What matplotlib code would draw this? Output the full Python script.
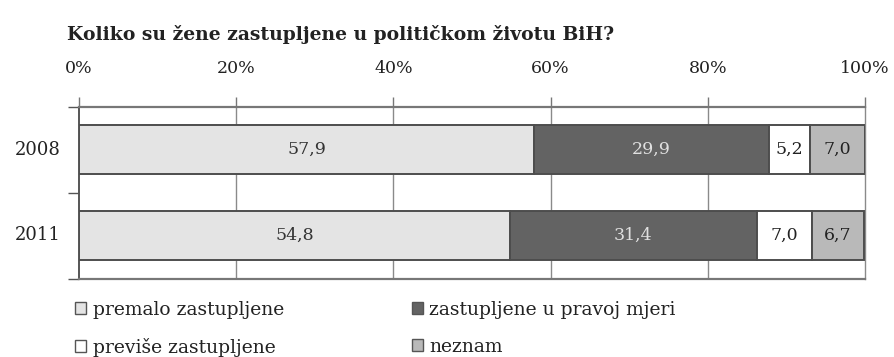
import matplotlib
matplotlib.use("Agg")
import matplotlib.pyplot as plt
from matplotlib.ticker import FixedLocator
import numpy as np

plt.rcParams['font.family'] = ['DejaVu Serif']

title = "Koliko su žene zastupljene u političkom životu BiH?"
years = ["2008", "2011"]
categories = ["premalo zastupljene", "zastupljene u pravoj mjeri",
              "previše zastupljene", "neznam"]
values = {
    "premalo zastupljene": [57.9, 54.8],
    "zastupljene u pravoj mjeri": [29.9, 31.4],
    "previše zastupljene": [5.2, 7.0],
    "neznam": [7.0, 6.7],
}
value_labels = {
    "premalo zastupljene": ["57,9", "54,8"],
    "zastupljene u pravoj mjeri": ["29,9", "31,4"],
    "previše zastupljene": ["5,2", "7,0"],
    "neznam": ["7,0", "6,7"],
}
x_ticks = [0, 20, 40, 60, 80, 100]
x_tick_labels = ["0%", "20%", "40%", "60%", "80%", "100%"]

fills = ["#e4e4e4", "#636363", "#ffffff", "#b9b9b9"]
label_colors = ["#333333", "#e0e0e0", "#222222", "#222222"]
edge = "#4d4d4d"
text_color = "#222222"
fs = 12.5

fig = plt.figure(figsize=(8.95, 3.57), dpi=100)
ax = fig.add_axes([79 / 895, 78.5 / 357, 786 / 895, 172 / 357])

y = np.arange(len(years))
left = np.zeros(len(years))
handles = {}
for cat, fc, lc in zip(categories, fills, label_colors):
    vals = np.array(values[cat])
    bars = ax.barh(y, vals, left=left, height=0.58, color=fc,
                   edgecolor=edge, linewidth=1.4, zorder=3, label=cat)
    handles[cat] = bars
    for yi, v, l, txt in zip(y, vals, left, value_labels[cat]):
        ax.text(l + v / 2, yi, txt, ha="center", va="center",
                fontsize=fs, color=lc, zorder=4)
    left += vals

ax.set_xlim(0, 100)
ax.set_ylim(1.5, -0.5)

# vertical grid lines at the percentage ticks
for xv in x_ticks[1:-1]:
    ax.axvline(xv, color="#8a8a8a", linewidth=1.0, zorder=1)

ax.xaxis.set_ticks_position("top")
ax.set_xticks(x_ticks)
ax.set_xticklabels(x_tick_labels, fontsize=fs, color=text_color)
ax.tick_params(axis="x", direction="out", length=7, width=1.0,
               color="#777777", pad=14)

ax.yaxis.set_major_locator(FixedLocator([-0.5, 0.5, 1.5]))
ax.yaxis.set_major_formatter(plt.NullFormatter())
ax.tick_params(axis="y", direction="out", length=8, width=1.0,
               color="#555555")
for yi, yr in zip(y, years):
    ax.text(-2.3, yi, yr, ha="right", va="center", fontsize=13,
            color=text_color, transform=ax.transData)

for side in ["top", "bottom"]:
    ax.spines[side].set_color("#777777")
    ax.spines[side].set_linewidth(1.6)
ax.spines["left"].set_color("#555555")
ax.spines["left"].set_linewidth(1.4)
ax.spines["right"].set_color("#8a8a8a")
ax.spines["right"].set_linewidth(1.0)

fig.text(67 / 895, 1 - 34 / 357, title, ha="left", va="center",
         fontsize=13.5, fontweight="bold", color=text_color)

order = ["premalo zastupljene", "previše zastupljene",
         "zastupljene u pravoj mjeri", "neznam"]
leg = fig.legend([handles[c] for c in order], order, ncol=2,
                 loc="upper left", bbox_to_anchor=(75 / 895, 1 - 301 / 357),
                 frameon=False, fontsize=13.5, handlelength=0.6,
                 handleheight=0.6, handletextpad=0.35, columnspacing=6.8,
                 labelspacing=1.0, borderaxespad=0, borderpad=0)
for t in leg.get_texts():
    t.set_color(text_color)
for p in leg.get_patches():
    p.set_linewidth(1.0)
    p.set_edgecolor("#555555")

fig.savefig("out.png", dpi=100)
